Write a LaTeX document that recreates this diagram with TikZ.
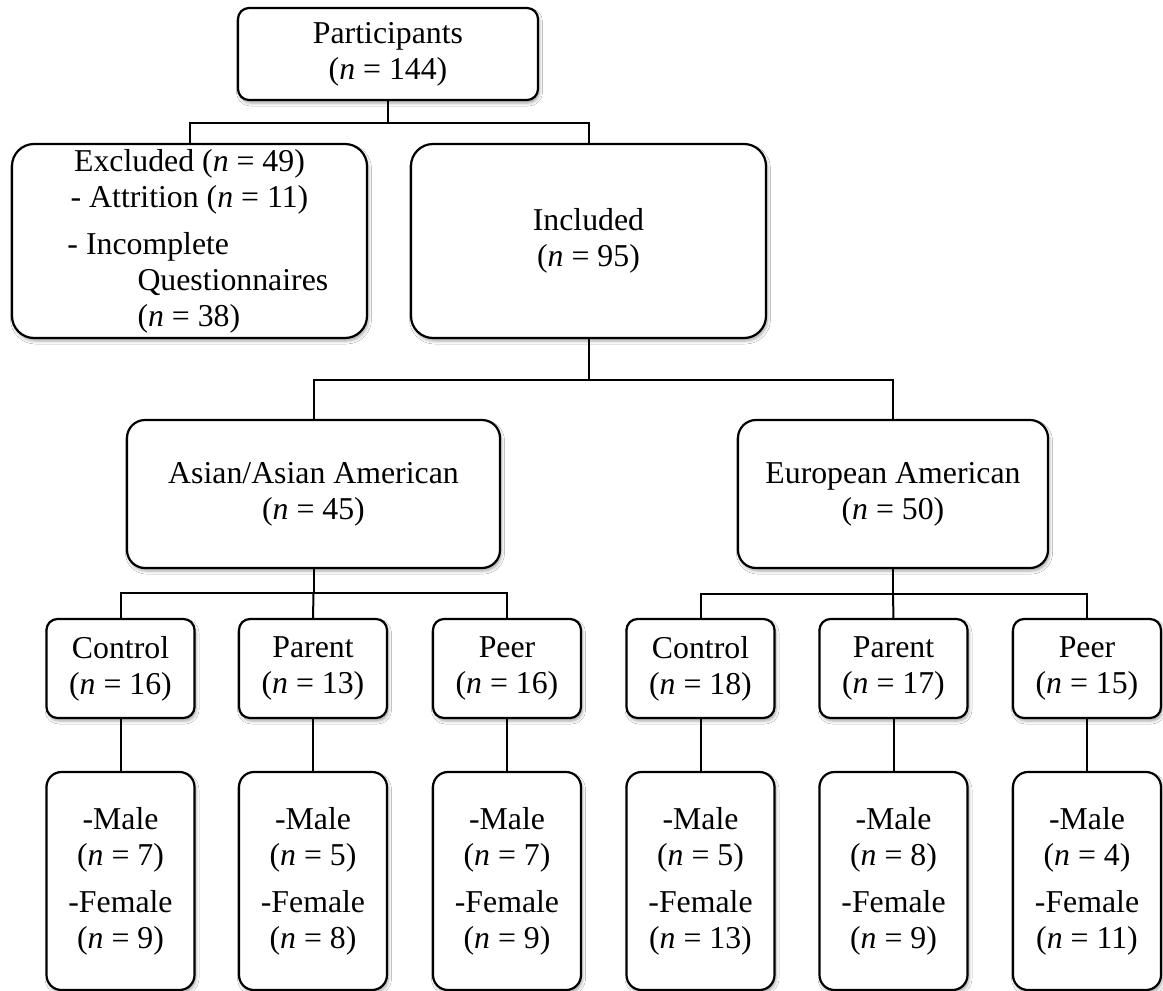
\documentclass[tikz,border=0pt]{standalone}
\usepackage{fontspec}
\setmainfont{Liberation Serif}
\usetikzlibrary{shadows.blur}

\tikzset{
  box/.style={draw, line width=2.2pt, rounded corners=#1, fill=white,
    inner sep=0pt, outer sep=0pt,
    font=\fontsize{31.8}{36}\selectfont,
    blur shadow={shadow xshift=1.5pt, shadow yshift=-3pt,
      shadow blur radius=3pt, shadow opacity=35}},
  box/.default=15pt,
  ctext/.style={align=center},
  topbox/.style={box=11pt, ctext, minimum width=300pt, minimum height=92pt},
  wide/.style={box=22pt, minimum width=355pt, minimum height=194pt},
  group/.style={box=18pt, ctext, minimum height=148pt},
  cond/.style={box=11pt, ctext, minimum width=148pt, minimum height=99pt},
  sexbox/.style={box=15pt, ctext, minimum width=148pt, minimum height=218pt},
  link/.style={draw, line width=2pt}
}
\newcommand{\nn}{\textit{n}}

\begin{document}
\begin{tikzpicture}[x=1pt, y=-1pt]
  \fill[white] (0,0) rectangle (1163,991);
  \useasboundingbox (0,0) rectangle (1163,991);

  % junction points of the tree
  \coordinate (j1) at (388,123);
  \coordinate (j2) at (588.5,380);
  \coordinate (j3) at (313.5,593);
  \coordinate (j4) at (893,594);

  % top level
  \node[topbox] (part) at (388,54) {Participants\\(\nn{} = 144)};
  \node[wide] (excl) at (189.5,241) {\parbox{300pt}{\centering
      Excluded (\nn{} = 49)\\- Attrition (\nn{} = 11)\par
      \vspace{11pt}\raggedright
      \hspace*{28pt}- Incomplete\\
      \hspace*{98pt}Questionnaires\\
      \hspace*{98pt}(\nn{} = 38)\par}};
  \node[wide, ctext] (incl) at (588.5,241) {Included\\(\nn{} = 95)};

  % ethnic groups
  \node[group, minimum width=373pt] (asian) at (313.5,494) {Asian/Asian American\\(\nn{} = 45)};
  \node[group, minimum width=310pt] (euro) at (893,494) {European American\\(\nn{} = 50)};

  % conditions
  \node[cond] (actl) at (120.5,668.5) {Control\\(\nn{} = 16)};
  \node[cond] (apar) at (313,668.5) {Parent\\(\nn{} = 13)};
  \node[cond] (apeer) at (507,668.5) {Peer\\(\nn{} = 16)};
  \node[cond] (ectl) at (700.5,668.5) {Control\\(\nn{} = 18)};
  \node[cond] (epar) at (893.5,668.5) {Parent\\(\nn{} = 17)};
  \node[cond] (epeer) at (1087,668.5) {Peer\\(\nn{} = 15)};

  % sex breakdown
  \node[sexbox] (actls) at (120.5,881) {-Male\\(\nn{} = 7)\\[11pt]-Female\\(\nn{} = 9)};
  \node[sexbox] (apars) at (313,881) {-Male\\(\nn{} = 5)\\[11pt]-Female\\(\nn{} = 8)};
  \node[sexbox] (apeers) at (507,881) {-Male\\(\nn{} = 7)\\[11pt]-Female\\(\nn{} = 9)};
  \node[sexbox] (ectls) at (700.5,881) {-Male\\(\nn{} = 5)\\[11pt]-Female\\(\nn{} = 13)};
  \node[sexbox] (epars) at (893.5,881) {-Male\\(\nn{} = 8)\\[11pt]-Female\\(\nn{} = 9)};
  \node[sexbox] (epeers) at (1087,881) {-Male\\(\nn{} = 4)\\[11pt]-Female\\(\nn{} = 11)};

  % tree connectors
  \path[link] (part.south) -- (j1);
  \path[link] (excl.north) |- (j1) -| (incl.north);
  \path[link] (incl.south) -- (j2);
  \path[link] (asian.north) |- (j2) -| (euro.north);
  \path[link] (asian.south) -- (j3);
  \path[link] (actl.north) |- (j3) -| (apeer.north);
  \path[link] (j3) -- (apar.north);
  \path[link] (euro.south) -- (j4);
  \path[link] (ectl.north) |- (j4) -| (epeer.north);
  \path[link] (j4) -- (epar.north);
  \foreach \a in {actl,apar,apeer,ectl,epar,epeer}
    \path[link] (\a.south) -- (\a s.north);
\end{tikzpicture}
\end{document}
